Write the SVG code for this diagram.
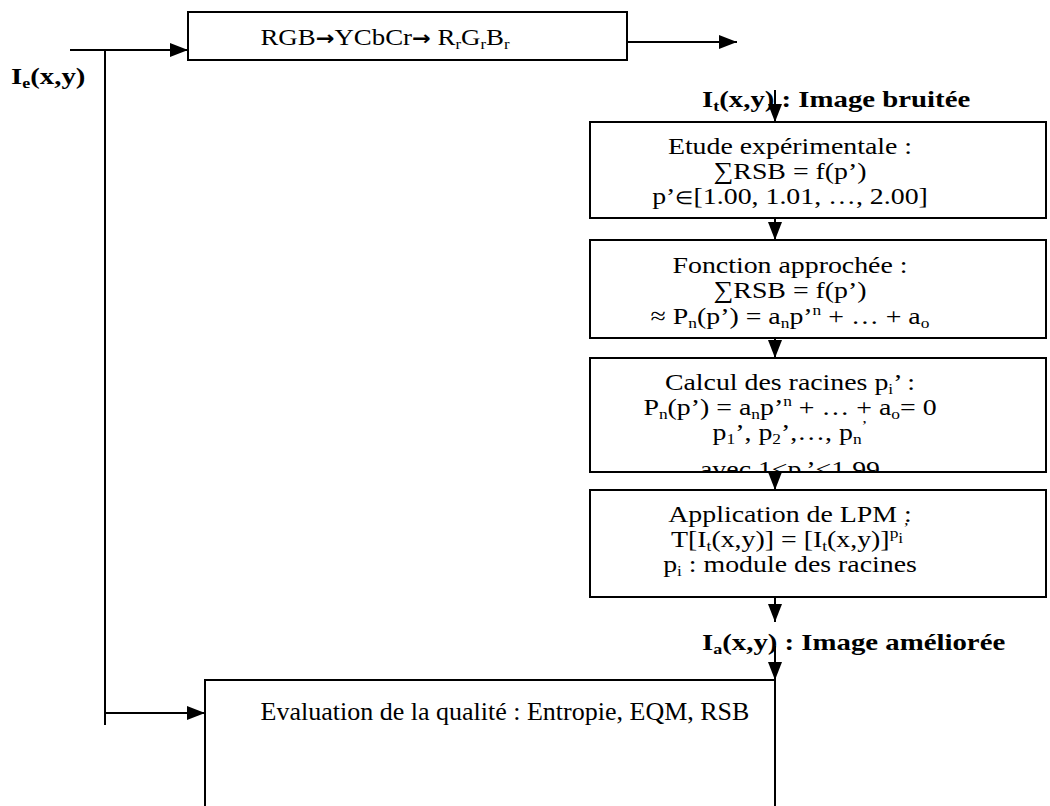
<svg xmlns="http://www.w3.org/2000/svg" width="1050" height="806" viewBox="0 0 1050 806">
<defs>
<marker id="ah" viewBox="0 0 18 14" refX="18" refY="7" markerWidth="18" markerHeight="14" markerUnits="userSpaceOnUse" orient="auto"><path d="M0,0 L18,7 L0,14 z" fill="#000"/></marker>
<clipPath id="clipc"><rect x="590" y="358" width="456" height="113"/></clipPath>
</defs>
<style>
.box{fill:#fff;stroke:#000;stroke-width:2}
.t{font-family:"Liberation Serif","Times New Roman",serif;font-size:24px;fill:#000;text-anchor:middle}
.b{font-family:"Liberation Serif","Times New Roman",serif;font-size:24px;font-weight:bold;fill:#000}
.c{stroke:#000;stroke-width:2;fill:none}
.s{font-size:15px}
.ar{font-family:"DejaVu Sans",sans-serif;font-weight:bold;font-size:20px}
.el{font-size:18px}
</style>
<rect width="1050" height="806" fill="#fff"/>
<g id="connectors">
<path class="c" d="M70,50 H188" marker-end="url(#ah)"/>
<path class="c" d="M105,50 V725"/>
<path class="c" d="M105,713 H205" marker-end="url(#ah)"/>
<path class="c" d="M627,42 H737" marker-end="url(#ah)"/>
<path class="c" d="M775,90 V122" marker-end="url(#ah)"/>
<path class="c" d="M775,218 V240" marker-end="url(#ah)"/>
<path class="c" d="M775,338 V358" marker-end="url(#ah)"/>
<path class="c" d="M775,472 V490" marker-end="url(#ah)"/>
<path class="c" d="M775,597 V622" marker-end="url(#ah)"/>
<path class="c" d="M775,646 V680" marker-end="url(#ah)"/>
</g>
<g id="label-ie"><text class="b" transform="translate(11,84) scale(1.2,1)">I<tspan class="s" dy="4">e</tspan><tspan dy="-4">(x,y)</tspan></text></g>
<g id="node-rgb">
<rect class="box" x="188" y="12" width="439" height="48"/>
<g transform="translate(385,0) scale(1.12,1)">
<text class="t" x="0" y="45">RGB<tspan class="ar">→</tspan>YCbCr<tspan class="ar">→</tspan> R<tspan class="s" dy="4">r</tspan><tspan dy="-4">G</tspan><tspan class="s" dy="4">r</tspan><tspan dy="-4">B</tspan><tspan class="s" dy="4">r</tspan></text>
</g>
</g>
<g id="label-it"><text class="b" transform="translate(702,107) scale(1.2,1)">I<tspan class="s" dy="4">t</tspan><tspan dy="-4">(x,y)  : Image bruitée</tspan></text></g>
<g id="node-etude">
<rect class="box" x="590" y="122" width="456" height="96"/>
<g transform="translate(790,0) scale(1.16,1)">
<text class="t" x="0" y="154">Etude expérimentale :</text>
<text class="t" x="0" y="179">∑RSB = f(p’)</text>
<text class="t" x="0" y="204">p’<tspan class="el">∈</tspan>[1.00, 1.01, …, 2.00]</text>
</g>
</g>
<g id="node-fonction">
<rect class="box" x="590" y="240" width="456" height="98"/>
<g transform="translate(790,0) scale(1.16,1)">
<text class="t" x="0" y="273">Fonction approchée :</text>
<text class="t" x="0" y="298">∑RSB = f(p’)</text>
<text class="t" x="0" y="324">≈ P<tspan class="s" dy="4">n</tspan><tspan dy="-4">(p’) = a</tspan><tspan class="s" dy="4">n</tspan><tspan dy="-4">p’</tspan><tspan class="s" dy="-9">n</tspan><tspan dy="9"> + … + a</tspan><tspan class="s" dy="4">o</tspan></text>
</g>
</g>
<g id="node-calcul">
<rect class="box" x="590" y="358" width="456" height="114"/>
<g clip-path="url(#clipc)">
<g transform="translate(790,0) scale(1.16,1)">
<text class="t" x="0" y="390">Calcul des racines p<tspan class="s" dy="4">i</tspan><tspan dy="-4">’ :</tspan></text>
<text class="t" x="0" y="415">P<tspan class="s" dy="4">n</tspan><tspan dy="-4">(p’) = a</tspan><tspan class="s" dy="4">n</tspan><tspan dy="-4">p’</tspan><tspan class="s" dy="-9">n</tspan><tspan dy="9"> + … + a</tspan><tspan class="s" dy="4">o</tspan><tspan dy="-4">= 0</tspan></text>
<text class="t" x="0" y="440">p<tspan class="s" dy="4">1</tspan><tspan dy="-4">’, p</tspan><tspan class="s" dy="4">2</tspan><tspan dy="-4">’,…, p</tspan><tspan class="s" dy="4">n</tspan><tspan class="s" dy="-13">’</tspan></text>
<text class="t" x="0" y="477">avec 1&lt;p<tspan class="s" dy="4">i</tspan><tspan dy="-4">’&lt;1.99</tspan></text>
</g>
</g>
</g>
<g id="node-lpm">
<rect class="box" x="590" y="490" width="456" height="107"/>
<g transform="translate(790,0) scale(1.16,1)">
<text class="t" x="0" y="522">Application de LPM :</text>
<text class="t" x="0" y="547">T[I<tspan class="s" dy="4">t</tspan><tspan dy="-4">(x,y)] = [I</tspan><tspan class="s" dy="4">t</tspan><tspan dy="-4">(x,y)]</tspan><tspan class="s" dy="-9">p</tspan><tspan class="s" dy="5">i</tspan><tspan class="s" dy="-10">’</tspan></text>
<text class="t" x="0" y="572">p<tspan class="s" dy="4">i</tspan><tspan dy="-4">  : module des  racines</tspan></text>
</g>
</g>
<g id="label-ia"><text class="b" transform="translate(702,650) scale(1.2,1)">I<tspan class="s" dy="4">a</tspan><tspan dy="-4">(x,y)  : Image améliorée</tspan></text></g>
<g id="node-eval">
<rect class="box" x="205" y="680" width="570" height="140"/>
<text class="t" x="505" y="720" style="font-size:26px">Evaluation de la qualité : Entropie, EQM, RSB</text>
</g>
</svg>
